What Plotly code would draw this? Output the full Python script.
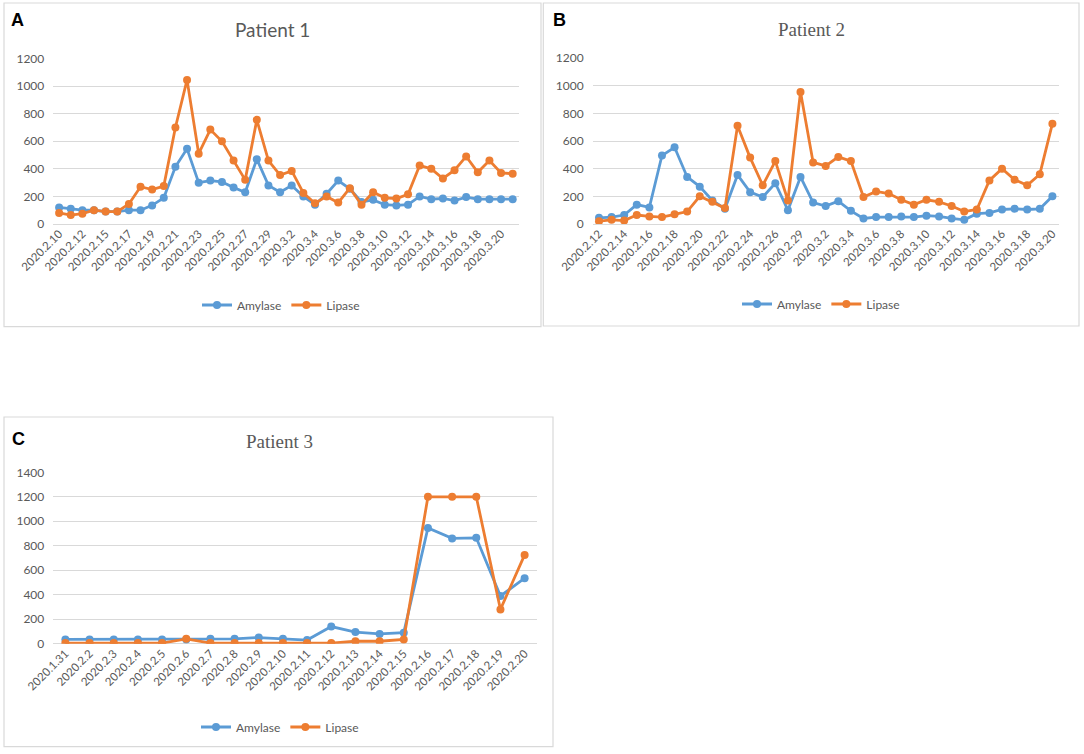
import plotly.graph_objects as go

#----------------------------------------------------------------------
# Data ----------------------------------------------------------------
#----------------------------------------------------------------------

dias_p1 = ['2020.2.10', '2020.2.11', '2020.2.12', '2020.2.14', '2020.2.15', '2020.2.16', '2020.2.17',
           '2020.2.18', '2020.2.19', '2020.2.20', '2020.2.21', '2020.2.22', '2020.2.23', '2020.2.24',
           '2020.2.25', '2020.2.26', '2020.2.27', '2020.2.28', '2020.2.29', '2020.3.1', '2020.3.2',
           '2020.3.3', '2020.3.4', '2020.3.5', '2020.3.6', '2020.3.7', '2020.3.8', '2020.3.9',
           '2020.3.10', '2020.3.11', '2020.3.12', '2020.3.13', '2020.3.14', '2020.3.15', '2020.3.16',
           '2020.3.17', '2020.3.18', '2020.3.19', '2020.3.20', '2020.3.21']
amylase_p1 = [120, 110, 100, 100, 90, 90, 100, 100, 135, 190,
              415, 545, 300, 315, 305, 265, 230, 470, 280, 230,
              280, 200, 140, 220, 315, 255, 160, 175, 140, 135,
              140, 200, 180, 185, 170, 195, 180, 180, 180, 180]
lipase_p1 = [80, 65, 75, 100, 90, 90, 145, 270, 250, 275,
             700, 1045, 510, 685, 600, 460, 320, 755, 460, 355,
             385, 225, 150, 200, 155, 260, 140, 230, 190, 185,
             215, 425, 400, 330, 390, 490, 375, 460, 370, 365]

dias_p2 = ['2020.2.12', '2020.2.13', '2020.2.14', '2020.2.15', '2020.2.16', '2020.2.17', '2020.2.18',
           '2020.2.19', '2020.2.20', '2020.2.21', '2020.2.22', '2020.2.23', '2020.2.24', '2020.2.25',
           '2020.2.26', '2020.2.27', '2020.2.29', '2020.3.1', '2020.3.2', '2020.3.3', '2020.3.4',
           '2020.3.5', '2020.3.6', '2020.3.7', '2020.3.8', '2020.3.9', '2020.3.10', '2020.3.11',
           '2020.3.12', '2020.3.13', '2020.3.14', '2020.3.15', '2020.3.16', '2020.3.17', '2020.3.18',
           '2020.3.19', '2020.3.20']
amylase_p2 = [45, 50, 65, 140, 120, 495, 555, 340, 270, 170,
              110, 355, 230, 195, 295, 100, 340, 155, 130, 165,
              95, 40, 50, 50, 55, 50, 60, 55, 40, 30,
              75, 80, 105, 110, 105, 110, 200]
lipase_p2 = [20, 30, 25, 65, 55, 50, 70, 90, 200, 160,
             115, 710, 480, 280, 455, 170, 955, 445, 420, 485,
             455, 195, 235, 220, 175, 140, 175, 160, 130, 90,
             105, 315, 400, 320, 280, 360, 725]

dias_p3 = ['2020.1.31', '2020.2.2', '2020.2.3', '2020.2.4', '2020.2.5', '2020.2.6', '2020.2.7',
           '2020.2.8', '2020.2.9', '2020.2.10', '2020.2.11', '2020.2.12', '2020.2.13', '2020.2.14',
           '2020.2.15', '2020.2.16', '2020.2.17', '2020.2.18', '2020.2.19', '2020.2.20']
amylase_p3 = [35, 35, 35, 35, 35, 35, 40, 40, 50, 40, 30, 140, 95, 80, 90, 945, 860, 865, 390, 535]
lipase_p3 = [5, 5, 5, 5, 5, 40, 5, 5, 5, 5, 5, 5, 20, 20, 35, 1200, 1200, 1200, 280, 725]

#----------------------------------------------------------------------
# Styles --------------------------------------------------------------
#----------------------------------------------------------------------

W = 1084; H = 754
azul = '#5B9BD5'
laranja = '#ED7D31'
cinza_txt = '#595959'
cinza_grid = '#D9D9D9'
fonte = 'Lato'

def px(x): return x/W
def py(y): return 1 - y/H

fig = go.Figure()

# (dias, amylase, lipase, eixo, legenda)
paineis = [(dias_p1, amylase_p1, lipase_p1, '', 'legend'),
           (dias_p2, amylase_p2, lipase_p2, '2', 'legend2'),
           (dias_p3, amylase_p3, lipase_p3, '3', 'legend3')]

for dias, amy, lip, ax, leg in paineis:
    for nome, vals, cor in [('Amylase', amy, azul), ('Lipase', lip, laranja)]:
        fig.add_trace(go.Scatter(x = dias, y = vals, name = nome, mode = 'lines+markers',
                                 line = dict(color = cor, width = 2.8),
                                 marker = dict(color = cor, size = 8),
                                 xaxis = 'x' + ax, yaxis = 'y' + ax, legend = leg))

#----------------------------------------------------------------------
# Axes ----------------------------------------------------------------
#----------------------------------------------------------------------

eixo_x = dict(type = 'category', tickangle = -45, showgrid = False, zeroline = False, showline = False,
              ticks = '', automargin = False, tickfont = dict(family = fonte, size = 11.5, color = cinza_txt))
eixo_y = dict(showgrid = True, gridcolor = cinza_grid, gridwidth = 1, zeroline = True,
              zerolinecolor = cinza_grid, zerolinewidth = 1, showline = False, ticks = '',
              dtick = 200, automargin = False, ticklabelstandoff = 8,
              tickfont = dict(family = fonte, size = 12, color = cinza_txt))

fig.update_layout(
    xaxis = dict(eixo_x, domain = [px(53.3), px(518.5)], range = [-0.5, len(dias_p1) - 0.5],
                 tickvals = dias_p1[::2], anchor = 'y'),
    yaxis = dict(eixo_y, domain = [py(224), py(58.5)], range = [0, 1200], anchor = 'x'),
    xaxis2 = dict(eixo_x, domain = [px(592.7), px(1058.7)], range = [-0.5, len(dias_p2) - 0.5],
                  tickvals = dias_p2[::2], anchor = 'y2'),
    yaxis2 = dict(eixo_y, domain = [py(224), py(58)], range = [0, 1200], anchor = 'x2'),
    xaxis3 = dict(eixo_x, domain = [px(53.3), px(536.7)], range = [-0.5, len(dias_p3) - 0.5],
                  tickvals = dias_p3, anchor = 'y3'),
    yaxis3 = dict(eixo_y, domain = [py(643.7), py(472.3)], range = [0, 1400], anchor = 'x3'),
)

#----------------------------------------------------------------------
# Legends -------------------------------------------------------------
#----------------------------------------------------------------------

estilo_leg = dict(orientation = 'h', xanchor = 'center', yanchor = 'middle', bgcolor = 'rgba(0,0,0,0)',
                  font = dict(family = fonte, size = 12, color = cinza_txt), itemwidth = 30,
                  xref = 'paper', yref = 'paper')

fig.update_layout(legend = dict(estilo_leg, x = px(281), y = py(305)),
                  legend2 = dict(estilo_leg, x = px(821), y = py(304)),
                  legend3 = dict(estilo_leg, x = px(280), y = py(727)))

#----------------------------------------------------------------------
# Frames, titles, panel letters ---------------------------------------
#----------------------------------------------------------------------

caixas = [(4, 3, 541, 326.7), (543.3, 3, 1079, 326), (4, 417, 553, 746.7)]
for x0, y0, x1, y1 in caixas:
    fig.add_shape(type = 'rect', xref = 'paper', yref = 'paper', x0 = px(x0), x1 = px(x1),
                  y0 = py(y1), y1 = py(y0), line = dict(color = cinza_grid, width = 1.2))

titulos = [('Patient 1', 272, 30, fonte), ('Patient 2', 811, 30, 'Liberation Serif'),
           ('Patient 3', 279, 442, 'Liberation Serif')]
for texto, xt, yt, fam in titulos:
    fig.add_annotation(text = texto, x = px(xt), y = py(yt), xref = 'paper', yref = 'paper',
                       xanchor = 'center', yanchor = 'middle', showarrow = False,
                       font = dict(family = fam, size = 19, color = cinza_txt))

letras = [('A', 17, 20), ('B', 559, 20), ('C', 18, 439)]
for texto, xt, yt in letras:
    fig.add_annotation(text = '<b>' + texto + '</b>', x = px(xt), y = py(yt), xref = 'paper', yref = 'paper',
                       xanchor = 'center', yanchor = 'middle', showarrow = False,
                       font = dict(family = 'Liberation Sans', size = 18, color = 'black'))

fig.update_layout(width = W, height = H, autosize = False, margin = dict(l = 0, r = 0, t = 0, b = 0),
                  paper_bgcolor = 'white', plot_bgcolor = 'white', template = 'none', showlegend = True)

# body of the page has a default 8px margin -> remove it so the figure sits at (0,0)
fig.write_html('out.html', config = {'displayModeBar': False},
               post_script = "document.body.style.margin = '0';")
